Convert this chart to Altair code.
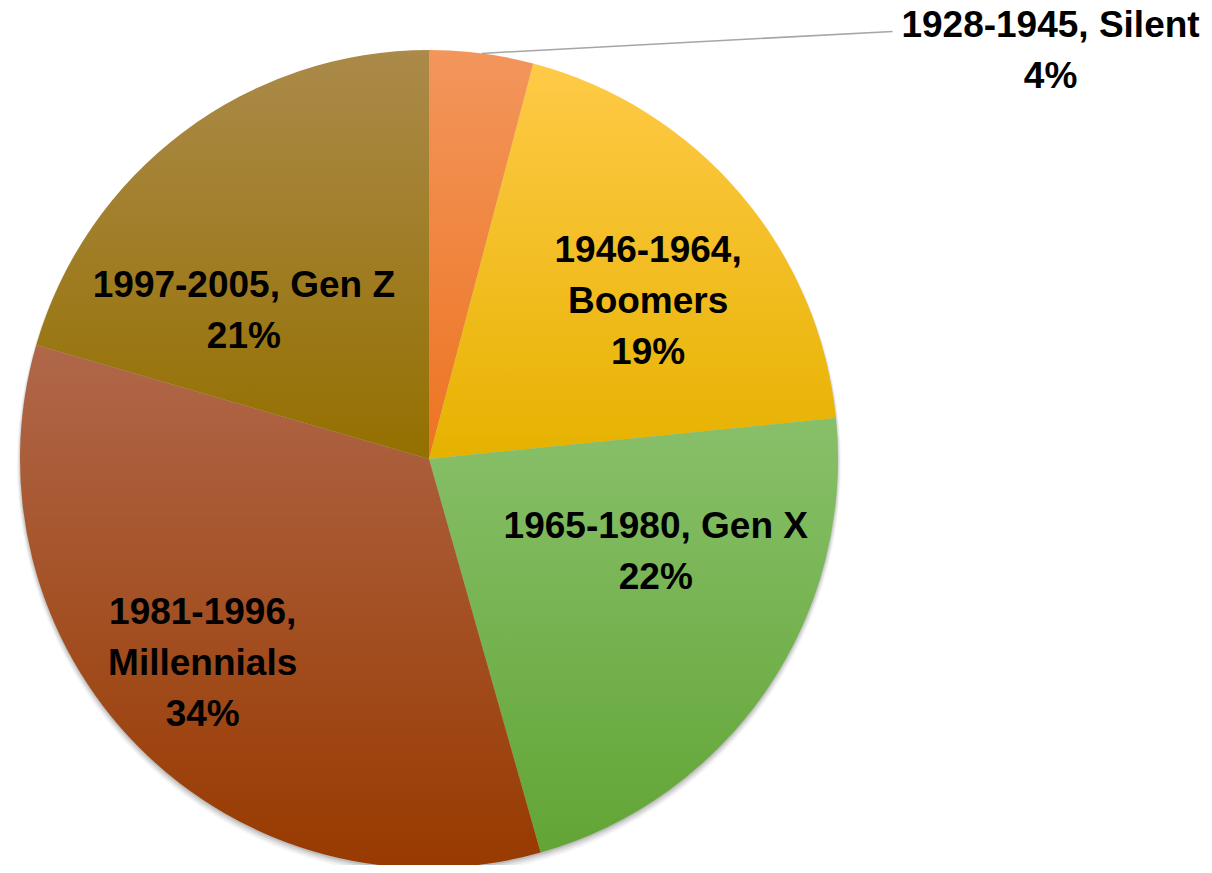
import math
import altair as alt
import pandas as pd

# ---- data ----
generations = ["Silent", "Boomers", "Gen X", "Millennials", "Gen Z"]
years = ["1928-1945", "1946-1964", "1965-1980", "1981-1996", "1997-2005"]
shares = [4.1, 19.3, 22.2, 33.9, 20.5]
break_after_years = [False, True, False, True, False]

# ---- styles ----
top_colors = ["#F3965C", "#FFCA47", "#88C06A", "#B0674A", "#AB8A4A"]
bottom_colors = ["#ED7421", "#E6B200", "#62A535", "#983A00", "#947000"]

W, H = 1196, 857
CX, CY = 421, 451
R = 409

labels = []
for y, g, s, b in zip(years, generations, shares, break_after_years):
    head = f"{y},\n{g}" if b else f"{y}, {g}"
    labels.append(f"{head}\n{int(math.floor(s + 0.5))}%")

df = pd.DataFrame({
    "idx": list(range(len(generations))),
    "gen": generations,
    "share": shares,
    "label": labels,
})

theta_scale = alt.Scale(domain=[0, 100], range=[0, 2 * math.pi])

base = alt.Chart(df).transform_window(
    cum="sum(share)", sort=[alt.SortField("idx")], frame=[None, 0]
).transform_calculate(
    start="datum.cum - datum.share",
    mid="datum.cum - datum.share / 2",
)

layers = []

# soft shadow under the pie
for r_add, dy, op in [(3, 5, 0.04), (2, 4, 0.06), (1, 3, 0.08), (0, 2, 0.10)]:
    layers.append(
        base.transform_filter(alt.datum.idx == 0)
        .mark_arc(radius=R + r_add, theta=0, theta2=2 * math.pi, color="#000000", opacity=op)
        .encode(x=alt.value(CX), y=alt.value(CY + dy))
    )

# slices with vertical gradients
for g, tc, bc in zip(generations, top_colors, bottom_colors):
    grad = alt.LinearGradient(
        gradient="linear", x1=0, y1=0, x2=0, y2=1,
        stops=[alt.GradientStop(color=tc, offset=0), alt.GradientStop(color=bc, offset=1)],
    )
    layers.append(
        base.transform_filter(alt.datum.gen == g)
        .mark_arc(radius=R, color=grad)
        .encode(
            theta=alt.Theta("start:Q", scale=theta_scale, stack=None),
            theta2="cum:Q",
            x=alt.value(CX),
            y=alt.value(CY),
        )
    )

# leader line for the small slice
xs = alt.Scale(domain=[-CX, W - CX], nice=False, zero=False)
ys = alt.Scale(domain=[CY - H, CY], nice=False, zero=False)
layers.append(
    base.transform_filter(alt.datum.gen == "Silent")
    .transform_calculate(
        lx=f"{R} * sin(datum.mid * 2 * PI / 100)",
        ly=f"{R} * cos(datum.mid * 2 * PI / 100)",
    )
    .transform_calculate(lx2="datum.lx + 411", ly2="datum.ly + 22")
    .mark_rule(color="#A6A6A6", strokeWidth=1.5)
    .encode(
        x=alt.X("lx:Q", scale=xs, axis=None),
        y=alt.Y("ly:Q", scale=ys, axis=None),
        x2="lx2:Q",
        y2="ly2:Q",
    )
)

# data labels: (radius, dx, dy)
label_pos = {
    "Silent": (R, 569, -16),
    "Boomers": (250, 29, -35),
    "Gen X": (250, 20, -62),
    "Millennials": (250, -49, -11),
    "Gen Z": (250, -35, 38),
}
for g in generations:
    r, dx, dy = label_pos[g]
    layers.append(
        base.transform_filter(alt.datum.gen == g)
        .mark_text(
            font="Liberation Sans", fontWeight="bold", fontSize=37,
            lineBreak="\n", lineHeight=51, align="center", baseline="alphabetic",
            dx=dx, dy=dy, color="#000000",
        )
        .encode(
            theta=alt.Theta("mid:Q", scale=theta_scale, stack=None),
            radius=alt.value(r),
            text="label:N",
            x=alt.value(CX),
            y=alt.value(CY),
        )
    )

chart = alt.layer(*layers).properties(
    width=W, height=H, padding=0,
    autosize=alt.AutoSizeParams(type="none"),
    background="white",
).configure_view(stroke=None)

chart.save("out.html", embed_options={"renderer": "svg", "actions": False})
